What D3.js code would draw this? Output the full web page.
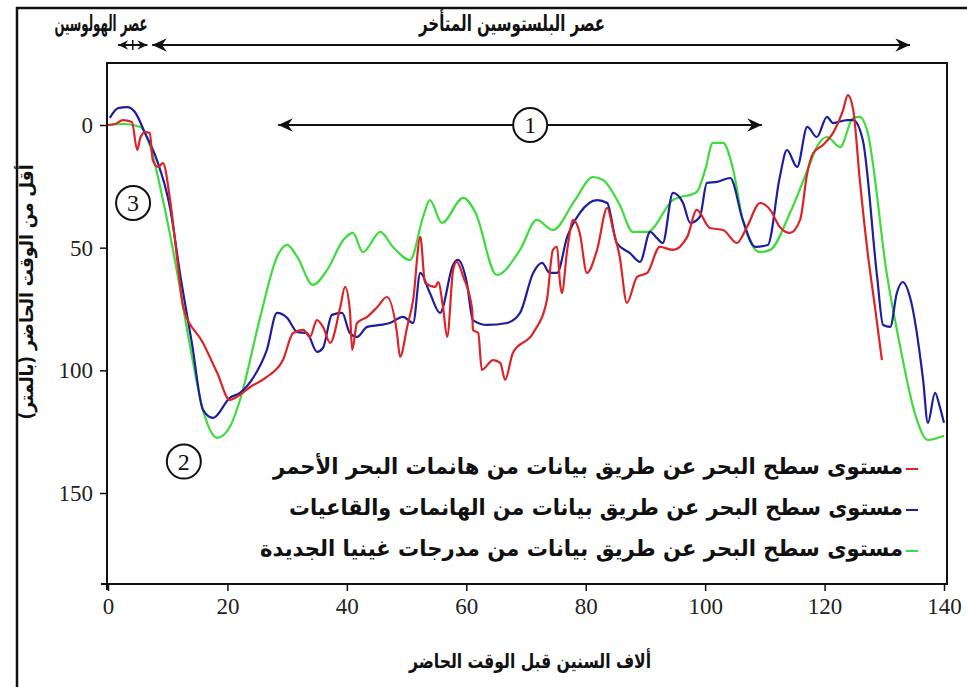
<!DOCTYPE html>
<html lang="ar">
<head>
<meta charset="utf-8">
<script src="https://cdn.jsdelivr.net/npm/d3@7"></script>
<style>
  html, body { margin: 0; padding: 0; background: #fff; }
  svg { display: block; }
  .ar { font-family: "DejaVu Sans", sans-serif; font-weight: bold; }
</style>
</head>
<body>
<svg id="chart" width="967" height="687"></svg>
<script>
// Sea level (metres below present) against age (thousand years before present)

// Red Sea coral record: [age ka, depth m]
const redSeaCorals = [
  [0, 0], [1.2, -0.4], [2.5, -2.0], [4.0, -1.2], [4.9, 10.2], [5.4, 5.3], [6.2, 2.9], [7.0, 3.3],
  [7.5, 14.3], [8.4, 17.1], [9.2, 15.5], [10.4, 30.6], [11.7, 57.0], [12.6, 74.2], [15.9, 88.8],
  [18.3, 101.1], [20.4, 112.1], [21.6, 110.8], [23.8, 106.8], [26.6, 102.7], [29.3, 95.8],
  [31.0, 84.8], [32.7, 83.5], [33.8, 86.4], [35.0, 79.5], [36.0, 82.3], [37.2, 88.8], [38.9, 74.2],
  [39.7, 66.0], [40.5, 75.4], [40.9, 91.7], [41.7, 80.7], [43.4, 78.2], [45.1, 74.2], [46.7, 70.1],
  [48.4, 84.8], [48.9, 94.5], [50.1, 82.3], [51.1, 71.3], [52.3, 45.6], [53.1, 64.4], [54.8, 66.0],
  [55.3, 64.0], [56.1, 74.2], [56.8, 86.4], [57.8, 59.1], [58.4, 55.8], [59.5, 61.9], [61.0, 75.4],
  [61.1, 83.5], [62.0, 84.8], [62.6, 99.8], [64.5, 95.8], [65.7, 97.0], [66.5, 103.9], [67.8, 92.9],
  [71.2, 84.8], [73.5, 71.3], [74.5, 50.9], [75.2, 49.7], [75.7, 64.4], [76.0, 68.5], [76.9, 50.9],
  [77.9, 38.7], [79.0, 44.0], [80.2, 60.3], [81.9, 50.9], [83.6, 33.8], [84.6, 42.8], [85.7, 53.8],
  [86.9, 72.5], [88.6, 61.9], [90.3, 60.3], [92.4, 49.7], [94.6, 50.9], [97.0, 45.6], [98.6, 34.6],
  [100.8, 42.0], [103.0, 42.8], [105.3, 48.1], [107.0, 41.6], [109.2, 31.8], [110.9, 34.6],
  [112.5, 41.6], [114.2, 44.0], [115.9, 38.7], [117.1, 19.6], [118.1, 11.4], [119.7, 8.2],
  [121.4, 3.3], [123.1, -6.1], [123.9, -12.2], [124.8, -6.1], [125.9, 22.4], [127.1, 49.7],
  [128.5, 75.4], [129.6, 95.8]
];

// Coral and reef-terrace record
const coralReefs = [
  [0.3, -2.9], [1.7, -6.9], [3.2, -7.3], [4.5, -5.3], [6.2, 3.3], [8.2, 14.3], [10.4, 33.8],
  [12.1, 61.1], [14.1, 89.6], [15.9, 116.1], [17.6, 119.4], [20.4, 111.2], [22.1, 109.2],
  [24.3, 103.1], [26.6, 91.7], [28.3, 76.6], [30.0, 78.6], [31.7, 84.4], [33.3, 84.8], [35.0, 92.5],
  [36.0, 90.9], [37.5, 77.4], [39.2, 76.6], [40.5, 84.8], [41.7, 86.4], [43.4, 82.3], [45.6, 81.5],
  [47.2, 80.7], [49.4, 78.2], [51.1, 80.7], [52.3, 60.3], [53.9, 68.5], [55.6, 76.6], [57.8, 57.0],
  [58.6, 55.0], [60.1, 64.4], [61.1, 79.5], [63.5, 81.5], [66.8, 80.7], [69.0, 76.6], [71.2, 60.3],
  [72.7, 56.2], [74.0, 60.3], [75.2, 60.3], [76.9, 45.6], [79.0, 35.9], [81.9, 30.6], [83.6, 31.8],
  [85.2, 48.1], [87.4, 52.2], [89.1, 55.8], [90.8, 43.6], [91.9, 46.0], [92.9, 48.1], [94.6, 27.7],
  [96.3, 31.8], [97.5, 39.9], [99.1, 37.5], [100.3, 23.6], [102.0, 23.2], [104.2, 21.6],
  [106.3, 38.7], [108.4, 49.7], [110.5, 48.9], [112.5, 21.2], [113.7, 10.2], [115.4, 17.1],
  [117.1, 0.8], [118.7, 4.9], [120.4, -3.3], [121.4, -0.8], [123.8, -2.0], [124.8, -2.0],
  [126.4, 6.1], [128.8, 61.9], [129.8, 81.5], [131.0, 82.3], [132.1, 68.5], [133.1, 64.0],
  [134.3, 70.1], [136.5, 103.9], [137.3, 121.4], [138.5, 109.2], [139.3, 114.9], [140.0, 121.4]
];

// New Guinea (Huon) terrace record
const newGuineaTerraces = [
  [0, 0], [2.8, -0.4], [5.4, 0.8], [7.0, 8.2], [9.2, 30.6], [11.2, 55.0], [13.7, 89.6],
  [15.9, 116.1], [18.3, 127.5], [20.4, 123.1], [22.1, 112.1], [25.5, 78.2], [28.3, 53.8],
  [30.0, 48.9], [31.7, 53.8], [34.3, 65.2], [36.7, 59.1], [39.4, 46.9], [41.0, 44.0], [42.7, 51.8],
  [45.6, 43.6], [47.7, 49.7], [50.6, 55.0], [52.8, 37.1], [53.9, 30.6], [55.9, 39.9], [59.5, 29.7],
  [61.5, 35.5], [65.1, 61.1], [69.0, 50.9], [71.8, 38.7], [74.5, 42.8], [78.2, 30.6], [81.2, 21.2],
  [82.9, 22.4], [85.7, 32.6], [87.9, 43.6], [90.3, 43.6], [94.6, 30.6], [98.6, 27.3], [100.0, 18.3],
  [101.3, 7.3], [103.0, 7.3], [104.7, 18.3], [106.3, 38.7], [109.2, 51.8], [110.9, 50.9],
  [114.2, 35.9], [117.6, 15.5], [118.7, 9.0], [120.4, 4.9], [122.6, 9.0], [124.8, -2.9],
  [125.9, -3.3], [127.1, 2.0], [130.5, 61.9], [132.6, 89.6], [135.2, 118.2], [137.3, 128.4],
  [140.0, 126.7]
];

const seriesNames = [
  "مستوى سطح البحر عن طريق بيانات من هانمات البحر الأحمر",
  "مستوى سطح البحر عن طريق بيانات من الهانمات والقاعيات",
  "مستوى سطح البحر عن طريق بيانات من مدرجات غينيا الجديدة"
];
const seriesColors = ["#dc2328", "#1e1e9e", "#3ddc3d"];

const xTicks = [0, 20, 40, 60, 80, 100, 120, 140];
const yTicks = [0, 50, 100, 150];

const xTitle = "ألاف السنين قبل الوقت الحاضر";
const yTitle = "أقل من الوقت الحاضر (بالمتر)";

// Geological periods shown above the plot (ka)
const periodNames = ["عصر الهولوسين", "عصر البلستوسين المتأخر"];
const periodSpans = [[1.7, 6.6], [7.4, 134.3]];

// Numbered callouts: [label, age ka, depth m]
const callouts = [["1", 70.7, 0], ["2", 12.7, 137.2], ["3", 4.2, 31.8]];
const calloutSpan = [28.5, 109.5]; // range arrow around callout 1

const svg = d3.select("#chart");

const x = d3.scaleLinear().domain([0, 140]).range([108, 944]);
const y = d3.scaleLinear().domain([0, 150]).range([125, 493]);

const box = { left: 107, top: 63, right: 947, bottom: 584 };

// Outer frame (left and top edges)
svg.append("path")
  .attr("d", "M17,700 L17,8 L975,8")
  .attr("fill", "none").attr("stroke", "#111").attr("stroke-width", 2.5);

// Arrow heads
const defs = svg.append("defs");
function arrowMarker(id, size) {
  defs.append("marker")
    .attr("id", id)
    .attr("viewBox", "-16 -8 18 16")
    .attr("refX", 0).attr("refY", 0)
    .attr("markerUnits", "userSpaceOnUse")
    .attr("markerWidth", size * 1.1).attr("markerHeight", size)
    .attr("orient", "auto-start-reverse")
    .append("path")
    .attr("d", "M0,0 L-15,-7 L-10,0 L-15,7 Z")
    .attr("fill", "#111");
}
arrowMarker("arrow", 16);
arrowMarker("arrowSmall", 11);

// Plot box
svg.append("rect")
  .attr("x", box.left).attr("y", box.top)
  .attr("width", box.right - box.left).attr("height", box.bottom - box.top)
  .attr("fill", "none").attr("stroke", "#111").attr("stroke-width", 2);

// Series lines
const line = d3.line()
  .x(d => x(d[0]))
  .y(d => y(d[1]))
  .curve(d3.curveMonotoneX);

const allSeries = [redSeaCorals, coralReefs, newGuineaTerraces];
const drawOrder = [2, 1, 0];
drawOrder.forEach(i => {
  svg.append("path")
    .datum(allSeries[i])
    .attr("fill", "none")
    .attr("stroke", seriesColors[i])
    .attr("stroke-width", 2.2)
    .attr("stroke-linejoin", "round")
    .attr("d", line);
});

// Axes
const serif = "Liberation Serif, serif";
const yAxis = d3.axisLeft(y).tickValues(yTicks).tickSize(7).tickPadding(7);
const yG = svg.append("g").attr("transform", `translate(${box.left},0)`).call(yAxis);
yG.select(".domain").remove();
yG.selectAll(".tick line").attr("stroke", "#111").attr("stroke-width", 1.5);
yG.selectAll(".tick text").attr("font-size", 23).attr("fill", "#222")
  .attr("font-family", serif);

const xAxis = d3.axisBottom(x).tickValues(xTicks).tickSize(7).tickPadding(7);
const xG = svg.append("g").attr("transform", `translate(0,${box.bottom})`).call(xAxis);
xG.select(".domain").remove();
xG.selectAll(".tick line").attr("stroke", "#111").attr("stroke-width", 1.5);
xG.selectAll(".tick text").attr("font-size", 23).attr("fill", "#222")
  .attr("font-family", serif);

// Axis line extensions past the corner
svg.append("line").attr("x1", box.left - 6).attr("x2", box.left)
  .attr("y1", box.bottom).attr("y2", box.bottom).attr("stroke", "#111").attr("stroke-width", 2);
svg.append("line").attr("x1", box.left).attr("x2", box.left)
  .attr("y1", box.bottom).attr("y2", box.bottom + 6).attr("stroke", "#111").attr("stroke-width", 2);

// Arabic label helper, width fitted to the layout slot
function arLabel(sel, text, size, width) {
  return sel.append("text")
    .attr("class", "ar")
    .attr("font-size", size).attr("fill", "#111")
    .attr("textLength", width).attr("lengthAdjust", "spacingAndGlyphs")
    .text(text);
}

// Axis titles
arLabel(svg, xTitle, 20, 242)
  .attr("x", 530).attr("y", 668)
  .attr("text-anchor", "middle");

arLabel(svg, yTitle, 19, 255)
  .attr("transform", "translate(33,292) rotate(-90)")
  .attr("text-anchor", "middle");

// Period labels and arrows
const periodLabelX = [101, 512];
const periodLabelW = [93, 186];
periodNames.forEach((name, i) => {
  arLabel(svg, name, 22, periodLabelW[i])
    .attr("x", periodLabelX[i]).attr("y", 31)
    .attr("text-anchor", "middle");
  svg.append("line")
    .attr("x1", x(periodSpans[i][0])).attr("x2", x(periodSpans[i][1]))
    .attr("y1", 45).attr("y2", 45)
    .attr("stroke", "#111").attr("stroke-width", 2)
    .attr("marker-start", i === 0 ? "url(#arrowSmall)" : "url(#arrow)")
    .attr("marker-end", i === 0 ? "url(#arrowSmall)" : "url(#arrow)");
});
// Holocene centre tick
svg.append("line")
  .attr("x1", x((periodSpans[0][0] + periodSpans[0][1]) / 2))
  .attr("x2", x((periodSpans[0][0] + periodSpans[0][1]) / 2))
  .attr("y1", 40).attr("y2", 50).attr("stroke", "#111").attr("stroke-width", 1.5);

// Range arrow around callout 1
svg.append("line")
  .attr("x1", x(calloutSpan[0])).attr("x2", x(calloutSpan[1]))
  .attr("y1", y(0)).attr("y2", y(0))
  .attr("stroke", "#111").attr("stroke-width", 2)
  .attr("marker-start", "url(#arrow)").attr("marker-end", "url(#arrow)");

// Numbered circles
callouts.forEach(([label, t, d]) => {
  const g = svg.append("g").attr("transform", `translate(${x(t)},${y(d)})`);
  g.append("ellipse").attr("rx", 17).attr("ry", 17)
    .attr("fill", "#fff").attr("stroke", "#111").attr("stroke-width", 2);
  g.append("text")
    .attr("text-anchor", "middle").attr("dy", "0.35em")
    .attr("font-family", serif).attr("font-size", 24).attr("fill", "#111")
    .text(label);
});

// Legend (right aligned, marker on the right)
const legendY = [466, 507, 548];
const legendW = [630, 614, 643];
const legendRight = 903;
seriesNames.forEach((name, i) => {
  svg.append("line")
    .attr("x1", legendRight + 3).attr("x2", legendRight + 15)
    .attr("y1", legendY[i] + 3).attr("y2", legendY[i] + 3)
    .attr("stroke", seriesColors[i]).attr("stroke-width", 2);
  arLabel(svg, name, 22, legendW[i])
    .attr("x", legendRight).attr("y", legendY[i])
    .attr("dy", "0.35em")
    .attr("text-anchor", "end");
});
</script>
</body>
</html>
